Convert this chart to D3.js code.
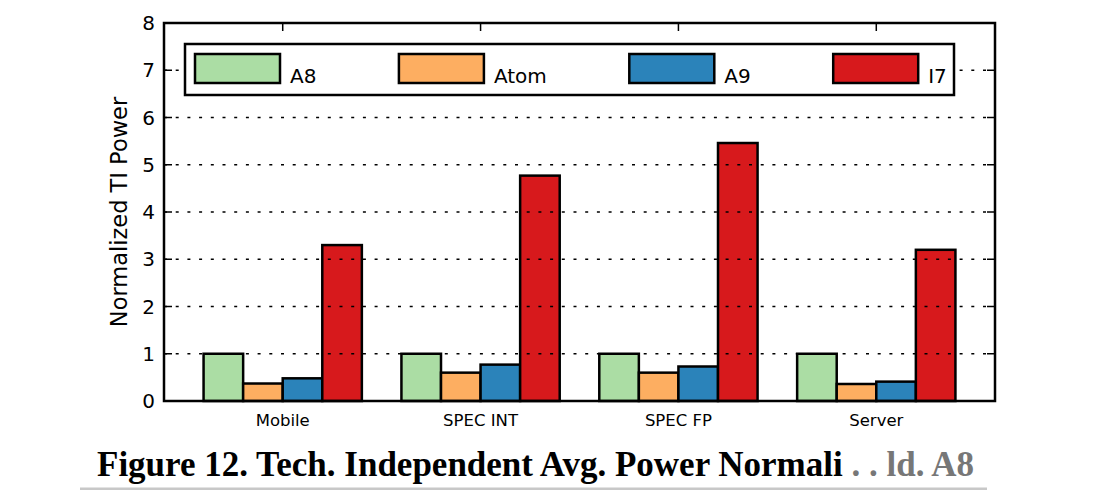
<!DOCTYPE html>
<html lang="en">
  <head>
    <meta charset="utf-8" />
    <title>Normalized TI Power</title>
    <script src="https://cdn.jsdelivr.net/npm/d3@7"></script>
    <style>
      body { margin:0; background:#ffffff; }
      .sans { font-family:"DejaVu Sans", sans-serif; }
      .caption { font-family:"Liberation Serif", "Times New Roman", serif; font-weight:bold; }
    </style>
  </head>
  <body>
    <script>
      // data
      var categories = ["Mobile", "SPEC INT", "SPEC FP", "Server"];
      var seriesNames = ["A8", "Atom", "A9", "I7"];
      var seriesColors = ["#abdda4", "#fdae61", "#2b83ba", "#d7191c"];
      var a8Values = [1.0, 1.0, 1.0, 1.0];
      var atomValues = [0.37, 0.60, 0.60, 0.36];
      var a9Values = [0.48, 0.77, 0.73, 0.41];
      var i7Values = [3.30, 4.77, 5.46, 3.20];
      var yTicks = [0, 1, 2, 3, 4, 5, 6, 7, 8];
      var yLabel = "Normalized TI Power";
      var captionMain = "Figure 12. Tech. Independent Avg. Power Normali";
      var captionTail = " . . ld.  A8";

      var values = [a8Values, atomValues, a9Values, i7Values];

      var W = 1111, H = 490;
      var plotL = 164, plotR = 995, plotT = 23, plotB = 401;

      var svg = d3.select("body").append("svg")
                  .attr("width", W)
                  .attr("height", H);

      /* ---------- scales ---------- */
      var x0 = d3.scaleBand()
                 .domain(categories)
                 .range([plotL, plotR])
                 .paddingInner(0)
                 .paddingOuter(0.1);

      var x1 = d3.scaleBand()
                 .domain(seriesNames)
                 .range([0, x0.bandwidth() * 0.8]);

      var y = d3.scaleLinear()
                .domain([0, 8])
                .range([plotB, plotT]);

      function center(c) { return x0(c) + x0.bandwidth() / 2; }

      /* ---------- ticks (inward, matplotlib style) ---------- */
      var ticks = svg.append("g");
      ticks.selectAll(".tl").data(yTicks).enter().append("line")
           .attr("x1", plotL).attr("x2", plotL + 8)
           .attr("y1", d => y(d)).attr("y2", d => y(d))
           .attr("stroke", "#000").attr("stroke-width", 1.5);
      ticks.selectAll(".tr").data(yTicks).enter().append("line")
           .attr("x1", plotR).attr("x2", plotR - 8)
           .attr("y1", d => y(d)).attr("y2", d => y(d))
           .attr("stroke", "#000").attr("stroke-width", 1.5);
      ticks.selectAll(".tt").data(categories).enter().append("line")
           .attr("x1", center).attr("x2", center)
           .attr("y1", plotT).attr("y2", plotT + 8)
           .attr("stroke", "#000").attr("stroke-width", 1.5);

      /* ---------- bars ---------- */
      var groups = svg.append("g").selectAll("g")
                      .data(seriesNames)
                      .enter().append("g")
                      .attr("fill", (d, i) => seriesColors[i]);

      groups.selectAll("rect")
            .data((s, si) => categories.map((c, ci) => ({c: c, s: s, v: values[si][ci]})))
            .enter().append("rect")
            .attr("x", d => center(d.c) - x0.bandwidth() * 0.4 + x1(d.s))
            .attr("width", x1.bandwidth())
            .attr("y", d => y(d.v))
            .attr("height", d => y(0) - y(d.v))
            .attr("stroke", "#000")
            .attr("stroke-width", 2.5);

      /* ---------- dotted grid, on top of the bars ---------- */
      svg.append("g").selectAll("line")
         .data(yTicks.slice(1, -1))
         .enter().append("line")
         .attr("x1", plotL).attr("x2", plotR)
         .attr("y1", d => y(d)).attr("y2", d => y(d))
         .attr("stroke", "#000")
         .attr("stroke-width", 1.6)
         .attr("stroke-dasharray", "3,8.7");

      /* ---------- frame ---------- */
      svg.append("rect")
         .attr("x", plotL).attr("y", plotT)
         .attr("width", plotR - plotL).attr("height", plotB - plotT)
         .attr("fill", "none")
         .attr("stroke", "#000")
         .attr("stroke-width", 2.5);

      /* ---------- tick labels ---------- */
      svg.append("g").attr("class", "sans").selectAll("text")
         .data(yTicks)
         .enter().append("text")
         .attr("x", plotL - 9)
         .attr("y", d => y(d))
         .attr("dominant-baseline", "central")
         .attr("text-anchor", "end")
         .attr("font-size", 20)
         .text(d => d);

      svg.append("g").attr("class", "sans").selectAll("text")
         .data(categories)
         .enter().append("text")
         .attr("x", center)
         .attr("y", plotB + 19)
         .attr("dominant-baseline", "central")
         .attr("text-anchor", "middle")
         .attr("font-size", 16.5)
         .text(d => d);

      svg.append("text")
         .attr("class", "sans")
         .attr("transform", "translate(119," + (plotT + plotB) / 2 + ") rotate(-90)")
         .attr("text-anchor", "middle")
         .attr("dominant-baseline", "central")
         .attr("font-size", 22.5)
         .text(yLabel);

      /* ---------- legend ---------- */
      var legL = 185, legT = 44, legB = 95, legR = 954;
      var legend = svg.append("g").attr("class", "sans");
      legend.append("rect")
            .attr("x", legL).attr("y", legT)
            .attr("width", legR - legL).attr("height", legB - legT)
            .attr("fill", "#fff")
            .attr("stroke", "#000")
            .attr("stroke-width", 2.5);

      var patchW = 85, textGap = 10, entryGap = 82.5;
      var cursor = legL + 10;
      seriesNames.forEach(function(name, i) {
        legend.append("rect")
              .attr("x", cursor).attr("y", legT + 10)
              .attr("width", patchW).attr("height", 29)
              .attr("fill", seriesColors[i])
              .attr("stroke", "#000")
              .attr("stroke-width", 2.5);
        var t = legend.append("text")
                      .attr("x", cursor + patchW + textGap)
                      .attr("y", legT + 39)
                      .attr("font-size", 20)
                      .text(name);
        cursor += patchW + textGap + t.node().getComputedTextLength() + entryGap;
      });

      /* ---------- caption ---------- */
      var cap = svg.append("text")
                   .attr("class", "caption")
                   .attr("x", 97)
                   .attr("y", 476)
                   .attr("font-size", 35);
      cap.append("tspan").text(captionMain);
      cap.append("tspan").attr("fill", "#777").text(captionTail);

      svg.append("line")
         .attr("x1", 80).attr("x2", 987)
         .attr("y1", 489).attr("y2", 489)
         .attr("stroke", "#c8c8c8")
         .attr("stroke-width", 3);
    </script>
  </body>
</html>
